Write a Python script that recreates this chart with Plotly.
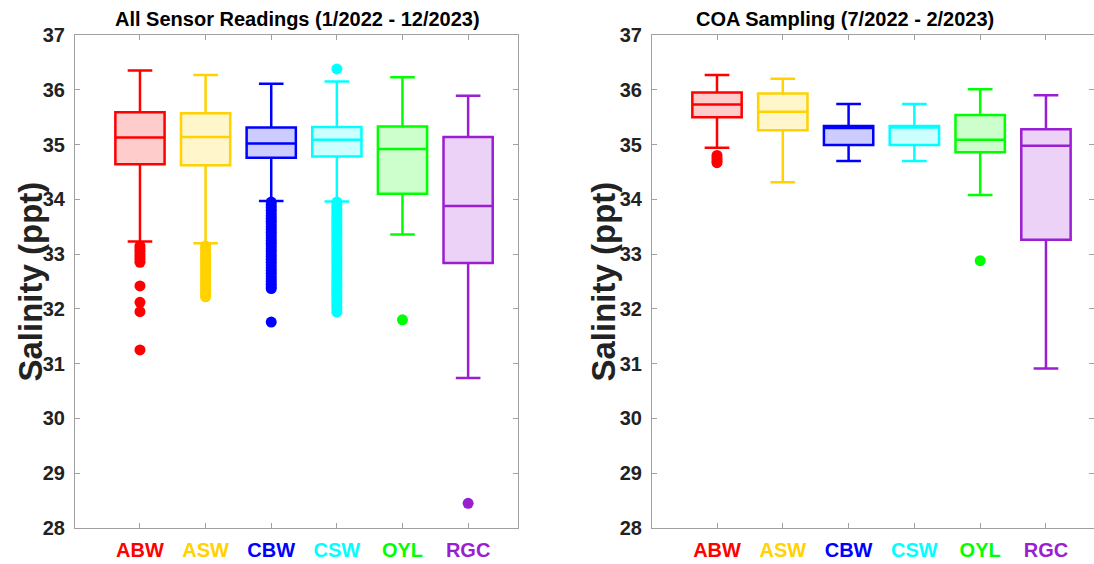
import plotly.graph_objects as go

sites = ["ABW", "ASW", "CBW", "CSW", "OYL", "RGC"]
colors = ["#FF0000", "#FFD200", "#0000FF", "#00FFFF", "#00FF00", "#9A1ED2"]
fills = ["rgba(255,0,0,0.2)", "rgba(255,210,0,0.2)", "rgba(0,0,255,0.2)",
         "rgba(0,255,255,0.2)", "rgba(0,255,0,0.2)", "rgba(154,30,210,0.2)"]

# Panel 1: All Sensor Readings
all_upper = [36.35, 36.27, 36.11, 36.15, 36.23, 35.89]
all_q3 = [35.59, 35.57, 35.31, 35.32, 35.33, 35.14]
all_median = [35.13, 35.14, 35.02, 35.09, 34.92, 33.88]
all_q1 = [34.64, 34.62, 34.76, 34.78, 34.10, 32.84]
all_lower = [33.23, 33.20, 33.97, 33.96, 33.36, 30.74]
all_outliers = {
    "ABW": [33.15, 33.10, 33.05, 33.00, 32.95, 32.90, 32.85, 32.42, 32.12, 31.95, 31.25],
    "ASW": [33.15, 33.10, 33.05, 33.00, 32.95, 32.90, 32.85, 32.80, 32.75, 32.70, 32.65,
            32.60, 32.55, 32.50, 32.45, 32.40, 32.35, 32.30, 32.25, 32.22],
    "CBW": [33.95, 33.90, 33.85, 33.80, 33.75, 33.70, 33.65, 33.60, 33.55, 33.50, 33.45,
            33.40, 33.35, 33.30, 33.25, 33.20, 33.15, 33.10, 33.05, 33.00, 32.95, 32.90,
            32.85, 32.80, 32.75, 32.70, 32.65, 32.60, 32.55, 32.50, 32.45, 32.40, 32.37,
            31.76],
    "CSW": [36.38, 33.95, 33.90, 33.85, 33.80, 33.75, 33.70, 33.65, 33.60, 33.55, 33.50,
            33.45, 33.40, 33.35, 33.30, 33.25, 33.20, 33.15, 33.10, 33.05, 33.00, 32.95,
            32.90, 32.85, 32.80, 32.75, 32.70, 32.65, 32.60, 32.55, 32.50, 32.45, 32.40,
            32.35, 32.30, 32.25, 32.20, 32.15, 32.10, 32.05, 32.00, 31.94],
    "OYL": [31.80],
    "RGC": [28.45],
}

# Panel 2: COA Sampling
coa_upper = [36.27, 36.20, 35.74, 35.74, 36.01, 35.90]
coa_q3 = [35.95, 35.93, 35.34, 35.34, 35.54, 35.28]
coa_median = [35.73, 35.60, 35.30, 35.31, 35.09, 34.98]
coa_q1 = [35.50, 35.26, 34.99, 34.99, 34.86, 33.26]
coa_lower = [34.94, 34.31, 34.70, 34.70, 34.08, 30.91]
coa_outliers = {
    "ABW": [34.80, 34.75, 34.70, 34.67],
    "OYL": [32.88],
}

yticks = list(range(28, 38))

W, H = 1094, 564
fig = go.Figure()

def add_panel(xa, ya, upper, q3, med, q1, lower, outliers):
    for i, s in enumerate(sites):
        fig.add_trace(go.Box(
            x=[i + 1], q1=[q1[i]], median=[med[i]], q3=[q3[i]],
            lowerfence=[lower[i]], upperfence=[upper[i]],
            width=0.75, whiskerwidth=0.5, boxpoints=False,
            line=dict(color=colors[i], width=2.5), fillcolor=fills[i],
            xaxis=xa, yaxis=ya, showlegend=False, name=s))
        if s in outliers:
            vals = outliers[s]
            fig.add_trace(go.Scatter(
                x=[i + 1] * len(vals), y=vals, mode="markers",
                marker=dict(color=colors[i], size=11, line=dict(width=0)),
                xaxis=xa, yaxis=ya, showlegend=False, name=s))

add_panel("x", "y", all_upper, all_q3, all_median, all_q1, all_lower, all_outliers)
add_panel("x2", "y2", coa_upper, coa_q3, coa_median, coa_q1, coa_lower, coa_outliers)

ticktext = [f'<span style="color:{c}">{s}</span>' for s, c in zip(sites, colors)]
base = "Liberation Sans, Arial"

xcommon = dict(range=[0.01, 6.76], tickvals=[1, 2, 3, 4, 5, 6], ticktext=ticktext,
               showline=True, linecolor="#A0A0A0", linewidth=1, mirror="ticks",
               ticks="inside", ticklen=5, tickcolor="#A0A0A0", showgrid=False,
               zeroline=False, ticklabelstandoff=4,
               tickfont=dict(family=base, size=20, color="black", weight="bold"))
ycommon = dict(range=[28, 37], tickvals=yticks, showline=True, linecolor="#A0A0A0",
               linewidth=1, mirror="ticks", ticks="inside", ticklen=5,
               tickcolor="#A0A0A0", showgrid=False, zeroline=False,
               ticklabelstandoff=5,
               tickfont=dict(family=base, size=20, color="#222222", weight="bold"))

fig.update_layout(
    width=W, height=H,
    margin=dict(l=0, r=0, t=35, b=36),
    paper_bgcolor="white", plot_bgcolor="white",
    xaxis=dict(domain=[75 / W, 518 / W], anchor="y", **xcommon),
    yaxis=dict(domain=[0, 1], anchor="x", **ycommon),
    xaxis2=dict(domain=[652 / W, 1.0], anchor="y2", **{**xcommon, "range": [0.012, 6.73]}),
    yaxis2=dict(domain=[0, 1], anchor="x2", **ycommon),
    font=dict(family=base, color="black"),
    annotations=[
        dict(text="<b>All Sensor Readings (1/2022 - 12/2023)</b>", x=297 / W, y=1,
             xref="paper", yref="paper", xanchor="center", yanchor="bottom", yshift=3,
             showarrow=False, font=dict(family=base, size=20, color="black")),
        dict(text="<b>COA Sampling (7/2022 - 2/2023)</b>", x=845 / W, y=1,
             xref="paper", yref="paper", xanchor="center", yanchor="bottom", yshift=3,
             showarrow=False, font=dict(family=base, size=20, color="black")),
        dict(text="<b>Salinity (ppt)</b>", x=30 / W, y=0.5, xref="paper", yref="paper",
             xanchor="center", yanchor="middle", textangle=-90, showarrow=False,
             font=dict(family=base, size=33, color="#222222")),
        dict(text="<b>Salinity (ppt)</b>", x=603 / W, y=0.5, xref="paper", yref="paper",
             xanchor="center", yanchor="middle", textangle=-90, showarrow=False,
             font=dict(family=base, size=33, color="#222222")),
    ],
)

fig.write_html("out.html")
